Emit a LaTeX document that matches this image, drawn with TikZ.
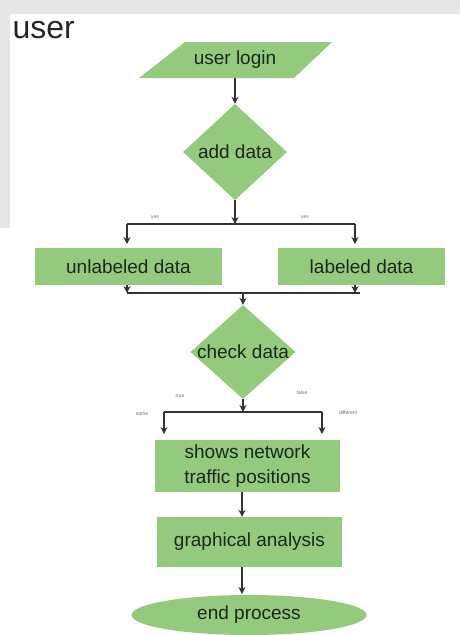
\documentclass[tikz,border=0pt]{standalone}
\usepackage{fontspec}
\setmainfont{Liberation Sans}
\usetikzlibrary{shapes.geometric,arrows.meta}
\definecolor{boxgreen}{HTML}{93CA7E}
\definecolor{txt}{HTML}{1A281A}
\definecolor{ln}{HTML}{333333}
\definecolor{wm}{HTML}{E6E6E6}
\tikzset{
  lbl/.style={font=\fontsize{19}{22}\selectfont, text=txt, align=center},
  boxg/.style={fill=boxgreen, draw=none, inner sep=0pt},
  rbox/.style={boxg, rectangle},
  dbox/.style={boxg, diamond},
  tiny/.style={font=\fontsize{5}{6}\selectfont, text=ln!70},
  conn/.style={draw=ln, line width=1.5pt},
  arr/.style={conn, -{Stealth[length=7pt,width=7pt]}},
}
\begin{document}
\begin{tikzpicture}[x=1pt,y=-1pt]
\useasboundingbox (0,0) rectangle (460,635);
% faint background band
\fill[wm] (0,0) rectangle (460,14);
\fill[wm] (0,14) rectangle (10,228);
% title
\node[font=\fontsize{32}{36}\selectfont, text=black!85, anchor=west] (title) at (9,30) {user};
% user login parallelogram
\fill[boxgreen] (185,42) -- (332,42) -- (294,78) -- (139,78) -- cycle;
\node[lbl, minimum width=150pt, minimum height=36pt, inner sep=0pt] (login) at (235,60) {user login};
% add data
\node[dbox, minimum width=104pt, minimum height=96pt] (add) at (235,152) {};
\node[lbl] (addt) at (add) {add data};
% split bar
\coordinate (b1) at (235,224);
\coordinate (b1l) at (127,224);
\coordinate (b1r) at (355,224);
\draw[arr] (login.south) -- (add.north);
\draw[arr] (add.south) -- (b1);
\draw[conn] (b1l) -- (b1r);
% data boxes
\node[rbox, minimum width=187pt, minimum height=37pt] (unlab) at (128.5,266.5) {};
\node[lbl] at (unlab) {unlabeled data};
\node[rbox, minimum width=167pt, minimum height=37pt] (lab) at (361.5,266.5) {};
\node[lbl] at (lab) {labeled data};
\coordinate (u1) at (127,244);
\coordinate (l1) at (355,244);
\draw[arr] (b1l) -- (u1);
\draw[arr] (b1r) -- (l1);
\node[tiny] (yes1) at (155,218) {yes};
\node[tiny] (yes2) at (305,218) {yes};
% merge bar
\coordinate (m1l) at (127,293);
\coordinate (m1r) at (360,293);
\coordinate (m1) at (243,293);
\draw[arr] (unlab.south -| m1l) -- (m1l);
\draw[arr] (lab.south -| 355,0) -- (355,293);
\draw[conn] (m1l) -- (m1r);
% check data
\node[dbox, minimum width=105pt, minimum height=94pt] (check) at (243,352) {};
\node[lbl] at (check) {check data};
\draw[arr] (m1) -- (check.north);
% second split
\coordinate (b2) at (243,412);
\coordinate (b2l) at (164,412);
\coordinate (b2r) at (322,412);
\coordinate (b2ld) at (164,434);
\coordinate (b2rd) at (322,434);
\draw[arr] (check.south) -- (b2);
\draw[conn] (b2l) -- (b2r);
\draw[arr] (b2l) -- (b2ld);
\draw[arr] (b2r) -- (b2rd);
\node[tiny] (t1) at (180,396) {true};
\node[tiny] (t2) at (302,393) {false};
\node[tiny] (t3) at (142,414) {same};
\node[tiny] (t4) at (348,413) {different};
% network box
\node[rbox, minimum width=185pt, minimum height=52pt] (net) at (247.5,466) {};
\node[lbl, font=\fontsize{19}{25}\selectfont] at (net) {shows network\\traffic positions};
% graphical analysis
\node[rbox, minimum width=185pt, minimum height=50pt] (graph) at (249.5,542) {};
\node[lbl] at (graph) {graphical analysis};
\draw[arr] (net.south -| 242,0) -- (graph.north -| 242,0);
% end
\node[boxg, ellipse, minimum width=235pt, minimum height=40pt] (end) at (249,615) {};
\node[lbl] at (end) {end process};
\draw[arr] (graph.south -| 242,0) -- (242,594);
\end{tikzpicture}
\end{document}
